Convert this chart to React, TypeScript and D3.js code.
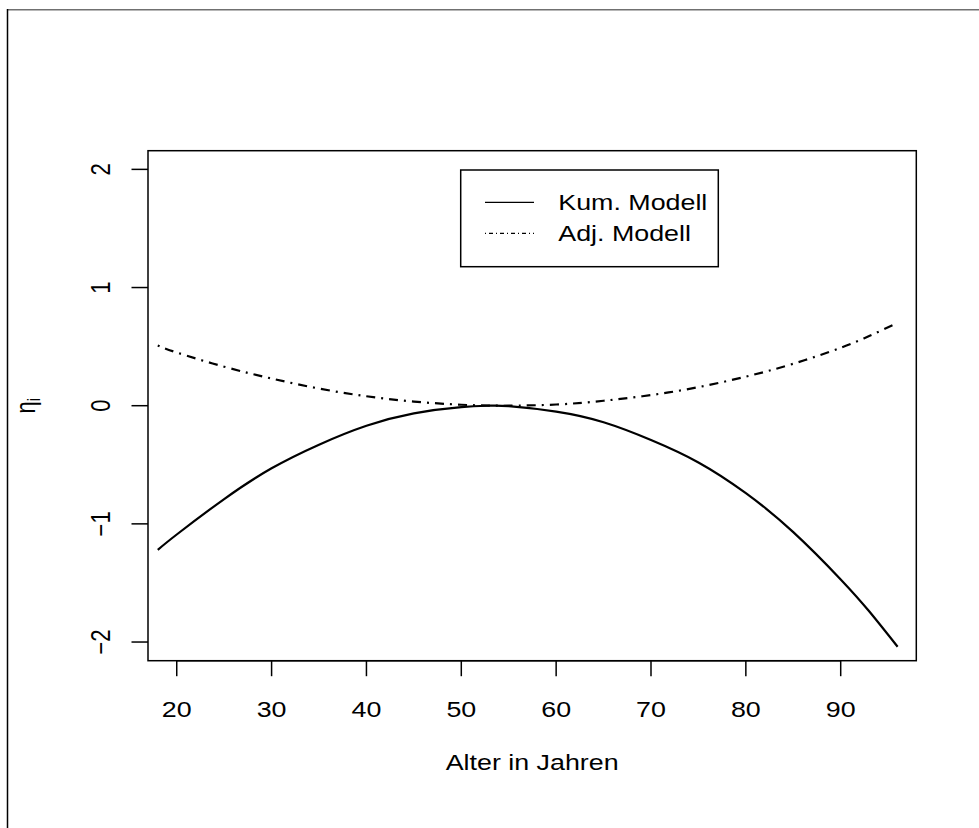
import React, { useEffect, useRef } from 'react';
import * as d3 from 'd3';

// Alter (Jahre) und geschätzte eta-Werte der beiden Modelle
const ages = [18, 20, 25, 30, 35, 40, 45, 50, 53, 55, 60, 65, 70, 75, 80, 85, 90, 93, 96];
const kumModell = [-1.22, -1.09, -0.79, -0.53, -0.33, -0.17, -0.065, -0.012, 0.0, -0.004, -0.05, -0.14, -0.29, -0.48, -0.74, -1.07, -1.47, -1.74, -2.04];
const adjModell = [0.51, 0.45, 0.33, 0.23, 0.145, 0.08, 0.035, 0.008, 0.001, 0.0, 0.01, 0.042, 0.09, 0.157, 0.246, 0.355, 0.49, 0.59, 0.70];

const xTicks = [20, 30, 40, 50, 60, 70, 80, 90];
const yTicks = [-2, -1, 0, 1, 2];
const legendLabels = ['Kum. Modell', 'Adj. Modell'];

const W = 979;
const H = 828;
const FONT = '"Liberation Sans", Arial, Helvetica, sans-serif';
const SX = 1.22; // Schrift ist im Original horizontal gestreckt

export default function App() {
  const ref = useRef<SVGSVGElement>(null);

  useEffect(() => {
    const svg = d3.select(ref.current);
    svg.selectAll('*').remove();

    const left = 148, right = 916.3, top = 150.7, bottom = 660.7;
    const x = d3.scaleLinear().domain([16.97, 97.97]).range([left, right]);
    const y = d3.scaleLinear().domain([-2.158, 2.158]).range([bottom, top]);

    const txt = (tx: number, ty: number, s: string, rot = false, anchor = 'middle') =>
      svg.append('text')
        .attr('transform', `translate(${tx},${ty}) scale(${SX},1)${rot ? ' rotate(-90)' : ''}`)
        .attr('text-anchor', anchor).attr('font-family', FONT).attr('font-size', 22).text(s);

    svg.append('rect').attr('width', W).attr('height', H).attr('fill', 'white');

    // Rahmen (oben grau, links schwarz)
    svg.append('line').attr('x1', 7).attr('x2', W).attr('y1', 9.8).attr('y2', 9.8)
      .attr('stroke', '#707070').attr('stroke-width', 1.5);
    svg.append('line').attr('x1', 7.5).attr('x2', 7.5).attr('y1', 9).attr('y2', H)
      .attr('stroke', 'black').attr('stroke-width', 1.5);

    // Plotbox
    svg.append('rect').attr('x', left).attr('y', top)
      .attr('width', right - left).attr('height', bottom - top)
      .attr('fill', 'none').attr('stroke', 'black').attr('stroke-width', 1.5);

    // x-Achse
    svg.append('line').attr('x1', x(xTicks[0])).attr('x2', x(xTicks[xTicks.length - 1]))
      .attr('y1', bottom).attr('y2', bottom).attr('stroke', 'black').attr('stroke-width', 1.5);
    xTicks.forEach((t) => {
      svg.append('line').attr('x1', x(t)).attr('x2', x(t)).attr('y1', bottom).attr('y2', bottom + 15.5)
        .attr('stroke', 'black').attr('stroke-width', 1.5);
      txt(x(t), 717, String(t));
    });

    // y-Achse
    yTicks.forEach((t) => {
      svg.append('line').attr('x1', left - 16.5).attr('x2', left).attr('y1', y(t)).attr('y2', y(t))
        .attr('stroke', 'black').attr('stroke-width', 1.5);
      txt(110, y(t), t < 0 ? '\u2212' + Math.abs(t) : String(t), true);
    });

    // Achsentitel
    txt((left + right) / 2, 770, 'Alter in Jahren');
    const yl = txt(35, (top + bottom) / 2, '', true);
    yl.append('tspan').text('\u03b7');
    yl.append('tspan').attr('font-size', 15).attr('dy', 4).text('i');

    // Kurven
    const line = d3.line<number>()
      .x((_, i) => x(ages[i]))
      .y((d) => y(d))
      .curve(d3.curveNatural);

    svg.append('path').datum(kumModell).attr('d', line).attr('fill', 'none')
      .attr('stroke', 'black').attr('stroke-width', 2.2);
    svg.append('path').datum(adjModell).attr('d', line).attr('fill', 'none')
      .attr('stroke', 'black').attr('stroke-width', 2.2).attr('stroke-dasharray', '2,6,9,6');

    // Legende
    svg.append('rect').attr('x', 460.7).attr('y', 170).attr('width', 257.6).attr('height', 96.7)
      .attr('fill', 'white').attr('stroke', 'black').attr('stroke-width', 1.5);
    const dashes = [null, '1,3,4,3'];
    legendLabels.forEach((lab, i) => {
      const ly = 202.3 + i * 31;
      const l = svg.append('line').attr('x1', 485).attr('x2', 534).attr('y1', ly).attr('y2', ly)
        .attr('stroke', 'black').attr('stroke-width', 1.3);
      if (dashes[i]) l.attr('stroke-dasharray', dashes[i] as string);
      txt(558.3, ly + 8, lab, false, 'start');
    });
  }, []);

  return (
    <svg ref={ref} width={W} height={H}
      style={{ position: 'absolute', left: 0, top: 0, display: 'block' }} />
  );
}
